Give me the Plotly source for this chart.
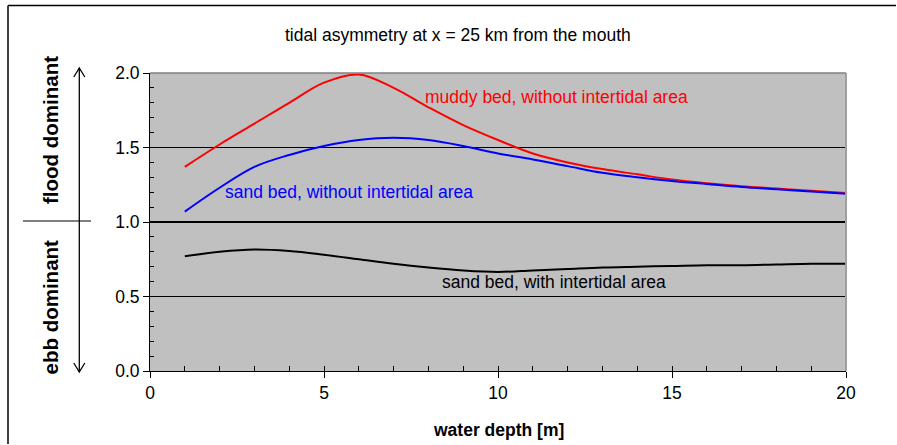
import plotly.graph_objects as go

# ---- data ----
depth = [1, 2, 3, 4, 5, 6, 7, 8, 9, 10, 11, 12, 13, 14, 15, 16, 17, 18, 19, 20]
muddy_no_intertidal = [1.37, 1.52, 1.66, 1.80, 1.935, 1.99, 1.90, 1.77, 1.65, 1.55,
                       1.46, 1.40, 1.355, 1.32, 1.285, 1.26, 1.24, 1.225, 1.21, 1.195]
sand_no_intertidal = [1.07, 1.23, 1.37, 1.45, 1.51, 1.55, 1.565, 1.55, 1.51, 1.46,
                      1.42, 1.375, 1.33, 1.30, 1.275, 1.255, 1.235, 1.22, 1.205, 1.19]
sand_with_intertidal = [0.77, 0.80, 0.815, 0.805, 0.78, 0.75, 0.72, 0.695, 0.675, 0.665,
                        0.675, 0.685, 0.695, 0.70, 0.705, 0.71, 0.71, 0.715, 0.72, 0.72]
neutral_x = [0, 20]
neutral_y = [1.0, 1.0]

x_ticks = [0, 5, 10, 15, 20]
y_ticks = [0.0, 0.5, 1.0, 1.5, 2.0]

W, H = 897, 445
L, R, T, B = 150, 51, 73, 74
PW, PH = W - L - R, H - T - B
FONT = "Liberation Sans, Arial, sans-serif"
FS = 17.5


def px(xp):
    return (xp - L) / PW


def py(yp):
    return (H - B - yp) / PH


fig = go.Figure()
fig.add_trace(go.Scatter(x=neutral_x, y=neutral_y, mode="lines",
                         line=dict(color="black", width=2.2), showlegend=False, hoverinfo="skip"))
fig.add_trace(go.Scatter(x=depth, y=muddy_no_intertidal, mode="lines",
                         line=dict(color="#FF0000", width=2, shape="spline"), showlegend=False))
fig.add_trace(go.Scatter(x=depth, y=sand_no_intertidal, mode="lines",
                         line=dict(color="#0000FF", width=2, shape="spline"), showlegend=False))
fig.add_trace(go.Scatter(x=depth, y=sand_with_intertidal, mode="lines",
                         line=dict(color="black", width=2, shape="spline"), showlegend=False))
# invisible trace to hold the minor-tick overlay axes
fig.add_trace(go.Scatter(x=neutral_x, y=neutral_y, xaxis="x2", yaxis="y2", mode="lines",
                         line=dict(width=0), showlegend=False, hoverinfo="skip", opacity=0))

axis_font = dict(family=FONT, size=FS, color="black")
fig.update_layout(
    width=W, height=H,
    margin=dict(l=L, r=R, t=T, b=B),
    paper_bgcolor="white",
    plot_bgcolor="#C0C0C0",
    showlegend=False,
    xaxis=dict(range=[0, 20], tickvals=x_ticks, ticks="outside", ticklen=6, tickcolor="black",
               showline=True, linecolor="black", linewidth=1, showgrid=False, zeroline=False,
               tickfont=axis_font),
    yaxis=dict(range=[0, 2], tickvals=y_ticks, tickformat=".1f", ticks="outside", ticklen=6,
               tickcolor="black", showline=True, linecolor="black", linewidth=1,
               showgrid=True, gridcolor="black", gridwidth=1, zeroline=False, tickfont=axis_font),
    xaxis2=dict(range=[0, 20], dtick=1, tick0=0, ticks="inside", ticklen=5, tickcolor="black",
                overlaying="x", anchor="y", side="bottom", showticklabels=False,
                showline=False, showgrid=False, zeroline=False),
    yaxis2=dict(range=[0, 2], dtick=0.1, tick0=0, ticks="inside", ticklen=4, tickcolor="black",
                overlaying="y", anchor="x", side="left", showticklabels=False,
                showline=False, showgrid=False, zeroline=False),
)

shapes = []
# plot area top / right border (grey)
shapes.append(dict(type="line", xref="paper", yref="paper", x0=0, x1=1, y0=1, y1=1,
                   line=dict(color="#808080", width=1.5)))
shapes.append(dict(type="line", xref="paper", yref="paper", x0=1, x1=1, y0=0, y1=1,
                   line=dict(color="#A0A0A0", width=2)))
# outer chart frame (top and left edges; the rest lies outside the picture)
shapes.append(dict(type="line", xref="paper", yref="paper", x0=px(8), x1=px(W - 1),
                   y0=py(5.5), y1=py(5.5), line=dict(color="black", width=1.5)))
shapes.append(dict(type="line", xref="paper", yref="paper", x0=px(8), x1=px(8),
                   y0=py(5.5), y1=py(H - 1), line=dict(color="black", width=1.5)))
# separator between flood / ebb labels
shapes.append(dict(type="line", xref="paper", yref="paper", x0=px(23), x1=px(91),
                   y0=py(221), y1=py(221), line=dict(color="black", width=1)))
# vertical arrow line
shapes.append(dict(type="line", xref="paper", yref="paper", x0=px(79.3), x1=px(79.3),
                   y0=py(68), y1=py(372), line=dict(color="black", width=1.3)))
# arrow heads (open V)
shapes.append(dict(type="path", xref="paper", yref="paper",
                   path=f"M {px(73.8)} {py(77)} L {px(79.3)} {py(68)} L {px(84.8)} {py(77)}",
                   line=dict(color="black", width=1.3)))
shapes.append(dict(type="path", xref="paper", yref="paper",
                   path=f"M {px(73.8)} {py(363)} L {px(79.3)} {py(372)} L {px(84.8)} {py(363)}",
                   line=dict(color="black", width=1.3)))
fig.update_layout(shapes=shapes)

ann = []
ann.append(dict(text="tidal asymmetry at x = 25 km from the mouth", xref="paper", yref="paper",
                x=px(457.5), y=py(35), showarrow=False, xanchor="center", yanchor="middle",
                font=dict(family=FONT, size=FS, color="black")))
ann.append(dict(text="<b>water depth [m]</b>", xref="paper", yref="paper",
                x=px(498.5), y=py(430), showarrow=False, xanchor="center", yanchor="middle",
                font=dict(family=FONT, size=FS, color="black")))
ann.append(dict(text="<b>flood dominant</b>", xref="paper", yref="paper",
                x=px(50), y=py(130), showarrow=False, xanchor="center", yanchor="middle",
                textangle=-90, font=dict(family=FONT, size=20.5, color="black")))
ann.append(dict(text="<b>ebb dominant</b>", xref="paper", yref="paper",
                x=px(50), y=py(307.5), showarrow=False, xanchor="center", yanchor="middle",
                textangle=-90, font=dict(family=FONT, size=20.5, color="black")))
ann.append(dict(text="muddy bed, without intertidal area", x=7.84, y=1.839, xref="x", yref="y",
                showarrow=False, xanchor="left", yanchor="middle",
                font=dict(family=FONT, size=FS, color="#FF0000")))
ann.append(dict(text="sand bed, without intertidal area", x=2.10, y=1.20, xref="x", yref="y",
                showarrow=False, xanchor="left", yanchor="middle",
                font=dict(family=FONT, size=FS, color="#0000FF")))
ann.append(dict(text="sand bed, with intertidal area", x=8.33, y=0.597, xref="x", yref="y",
                showarrow=False, xanchor="left", yanchor="middle",
                font=dict(family=FONT, size=FS, color="black")))
fig.update_layout(annotations=ann)

fig.write_html(
    "out.html",
    config={"displayModeBar": False},
    post_script="document.body.style.margin='0';document.body.style.overflow='hidden';",
)
